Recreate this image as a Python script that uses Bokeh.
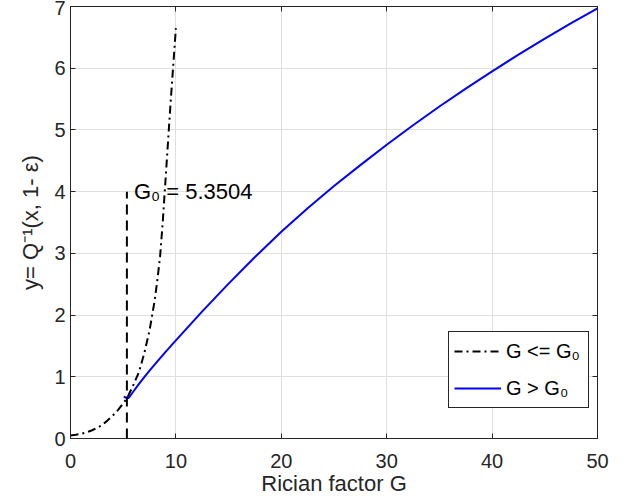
from bokeh.plotting import figure
from bokeh.models import LinearAxis, Range1d, Legend, LegendItem
from bokeh.embed import file_html
from bokeh.resources import INLINE
from bokeh.core.properties import value

# ---- data ----
g_low = [0, 0.5, 1, 1.5, 2, 2.5, 3, 3.5, 4, 4.5, 5, 5.35, 5.5, 6, 6.5, 7, 7.5, 8, 8.25,
         8.5, 8.75, 9, 9.25, 9.5, 9.75, 10]
q_low = [0.05, 0.06, 0.075, 0.10, 0.13, 0.17, 0.22, 0.29, 0.37, 0.46, 0.57, 0.65, 0.70, 0.88,
         1.08, 1.38, 1.75, 2.25, 2.58, 2.95, 3.5, 4.15, 4.8, 5.45, 6.05, 6.65]

g_high = [5.05, 5.35, 5.5, 6, 6.5, 7, 7.5, 8, 9, 10, 12.5, 15, 17.5, 20, 22.5, 25, 27.5,
          30, 32.5, 35, 37.5, 40, 42.5, 45, 47.5, 50]
q_high = [0.68, 0.655, 0.655, 0.77, 0.885, 0.995, 1.10, 1.20, 1.40, 1.59, 2.06, 2.51, 2.94,
          3.35, 3.73, 4.09, 4.43, 4.76, 5.075, 5.38, 5.67, 5.95, 6.22, 6.48, 6.73, 6.97]

g0 = 5.3504
g0_line_x = [g0, g0]
g0_line_y = [0, 4]
g0_label = "G₀ = 5.3504"

x_ticks = [0, 10, 20, 30, 40, 50]
y_ticks = [0, 1, 2, 3, 4, 5, 6, 7]

FONT = "Liberation Sans"
AX = "#262626"

p = figure(frame_width=527, frame_height=432,
           x_range=Range1d(0, 50), y_range=Range1d(0, 7),
           output_backend="svg", toolbar_location=None,
           min_border_left=70, min_border_top=6, min_border_right=25, min_border_bottom=50,
           background_fill_color="white", border_fill_color="white")

p.outline_line_color = AX
p.outline_line_alpha = 1

for ax in (p.xaxis[0], p.yaxis[0]):
    ax.axis_line_color = AX
    ax.major_tick_line_color = AX
    ax.major_tick_in = 5
    ax.major_tick_out = 0
    ax.minor_tick_line_color = None
    ax.major_label_text_font = FONT
    ax.major_label_text_font_size = "20px"
    ax.major_label_text_color = AX
    ax.axis_label_text_font = FONT
    ax.axis_label_text_font_size = "22px"
    ax.axis_label_text_font_style = "normal"
    ax.axis_label_text_color = AX

p.xaxis.ticker = x_ticks
p.yaxis.ticker = y_ticks
p.xaxis.major_label_standoff = 15
p.xaxis.axis_label = "Rician factor G"
p.xaxis.axis_label_standoff = 0
p.yaxis.axis_label = "y= Q⁻¹(x, 1- ε)"
p.yaxis.axis_label_standoff = 8
p.yaxis.major_label_standoff = 5

top = LinearAxis(ticker=x_ticks, major_label_text_color=None, major_label_text_font_size="1px",
                 major_label_standoff=0,
                 major_tick_in=5, major_tick_out=0, minor_tick_line_color=None,
                 axis_line_color=AX, major_tick_line_color=AX)
right = LinearAxis(ticker=y_ticks, major_label_text_color=None, major_label_text_font_size="1px",
                   major_label_standoff=0,
                   major_tick_in=5, major_tick_out=0, minor_tick_line_color=None,
                   axis_line_color=AX, major_tick_line_color=AX)
p.add_layout(top, "above")
p.add_layout(right, "right")

p.grid.grid_line_color = "#dfdfdf"
p.grid.grid_line_alpha = 1
p.xgrid.ticker = x_ticks
p.ygrid.ticker = y_ticks

r_low = p.line(g_low, q_low, line_color="black", line_width=2, line_dash="8 4 2 4")
r_high = p.line(g_high, q_high, line_color="#0000ff", line_width=2)
p.line(g0_line_x, g0_line_y, line_color="black", line_width=2, line_dash="10 6")

p.text(x=[g0], y=[4], text=[g0_label], x_offset=7, text_font=value(FONT),
       text_font_size="22px", text_color="black", text_baseline="alphabetic", text_align="left")

legend = Legend(items=[LegendItem(label="G <= G₀", renderers=[r_low]),
                       LegendItem(label="G > G₀", renderers=[r_high])],
                location=(378, 30), orientation="vertical",
                label_text_font=FONT, label_text_font_size="20px", label_text_color="black",
                glyph_width=47, glyph_height=28, label_height=28, label_width=77,
                label_standoff=5, padding=5, spacing=9, margin=0,
                border_line_color=AX, border_line_width=1, border_line_alpha=1,
                background_fill_color="white", background_fill_alpha=1)
p.add_layout(legend)

open("out.html", "w").write(file_html(p, INLINE))
